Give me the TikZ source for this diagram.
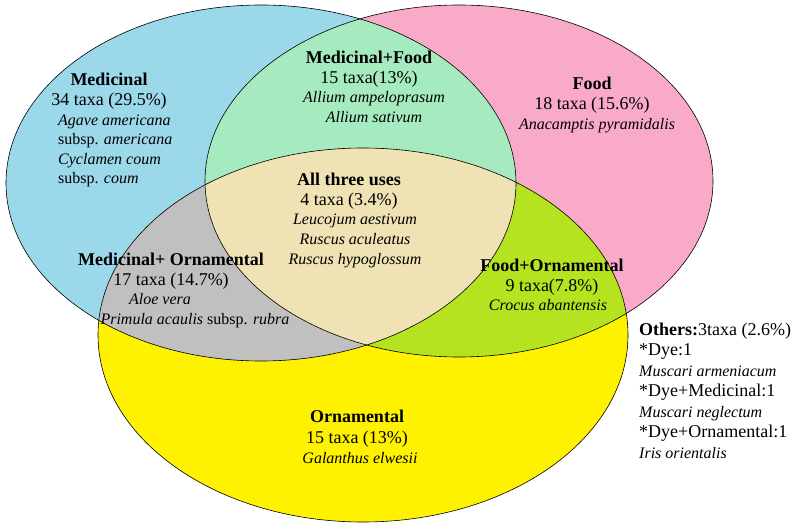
\documentclass[tikz,border=0pt]{standalone}
\usepackage{fontspec}
\setmainfont{Liberation Serif}
\definecolor{medblue}{RGB}{155,216,234}
\definecolor{foodpink}{RGB}{249,170,200}
\definecolor{ornyellow}{RGB}{255,242,0}
\definecolor{mfgreen}{RGB}{166,235,192}
\definecolor{allbeige}{RGB}{239,226,180}
\definecolor{mogray}{RGB}{192,192,192}
\definecolor{folime}{RGB}{182,227,32}
\tikzset{
  big/.style={font=\fontsize{18}{20.5}\selectfont, inner sep=0pt},
  small/.style={font=\fontsize{16}{20}\selectfont\itshape, inner sep=0pt},
  outline/.style={draw=black, line width=0.6pt},
  med/.style={x radius=255pt, y radius=178pt},
  food/.style={x radius=254pt, y radius=176pt},
  orn/.style={x radius=265pt, y radius=187pt}
}
\begin{document}
\begin{tikzpicture}[x=1pt,y=-1pt]
\useasboundingbox (0,0) rectangle (803,529);
\coordinate (cm) at (261,183);
\coordinate (cf) at (459,181);
\coordinate (co) at (363,335);
% base fills
\fill[medblue] (cm) ellipse [med];
\fill[foodpink] (cf) ellipse [food];
\fill[ornyellow] (co) ellipse [orn];
% pairwise overlaps
\begin{scope}
  \clip (cm) ellipse [med];
  \fill[mfgreen] (cf) ellipse [food];
  \fill[mogray] (co) ellipse [orn];
\end{scope}
\begin{scope}
  \clip (cf) ellipse [food];
  \fill[folime] (co) ellipse [orn];
\end{scope}
\begin{scope}
  \clip (cm) ellipse [med];
  \clip (cf) ellipse [food];
  \fill[allbeige] (co) ellipse [orn];
\end{scope}
% outlines
\draw[outline] (cm) ellipse [med];
\draw[outline] (cf) ellipse [food];
\draw[outline] (co) ellipse [orn];
% Medicinal
\node[big, anchor=base, align=center] (medt) at (109,106) {\textbf{Medicinal}\\34 taxa (29.5\%)};
\node[big, anchor=base west, align=left, font=\fontsize{16}{19.5}\selectfont] (meds) at (58,184)
  {\textit{Agave americana}\\subsp. \textit{americana}\\\textit{Cyclamen coum}\\subsp. \textit{coum}};
% Medicinal+Food
\node[big, anchor=base, align=center] (mft) at (369,84) {\textbf{Medicinal+Food}\\15 taxa(13\%)};
\node[small, anchor=base, align=center] (mfs) at (374,123) {Allium ampeloprasum\\Allium sativum};
% Food
\node[big, anchor=base, align=center] (ft) at (592,110) {\textbf{Food}\\18 taxa (15.6\%)};
\node[small, anchor=base] (fs) at (597,130) {Anacamptis pyramidalis};
% All three
\node[big, anchor=base, align=center] (at) at (349,206) {\textbf{All three uses}\\4 taxa (3.4\%)};
\node[small, anchor=base, align=center] (as) at (355,265) {Leucojum aestivum\\Ruscus aculeatus\\Ruscus hypoglossum};
% Medicinal+Ornamental
\node[big, anchor=base, align=center] (mot) at (171,286) {\textbf{Medicinal+ Ornamental}\\17 taxa (14.7\%)};
\node[small, anchor=base] (mos1) at (160,305) {Aloe vera};
\node[big, anchor=base, font=\fontsize{16}{20}\selectfont] (mos2) at (195,324) {\textit{Primula acaulis} subsp. \textit{rubra}};
% Food+Ornamental
\node[big, anchor=base, align=center] (fot) at (552,292) {\textbf{Food+Ornamental}\\9 taxa(7.8\%)};
\node[small, anchor=base] (fos) at (548,311) {Crocus abantensis};
% Ornamental
\node[big, anchor=base, align=center] (ot) at (357,443) {\textbf{Ornamental}\\15 taxa (13\%)};
\node[small, anchor=base] (os) at (360,463) {Galanthus elwesii};
% Others
\node[big, anchor=base west, align=left] (oth) at (639,458)
  {\textbf{Others:}3taxa (2.6\%)\\*Dye:1\\{\fontsize{16}{20}\selectfont\itshape Muscari armeniacum}\\*Dye+Medicinal:1\\{\fontsize{16}{20}\selectfont\itshape Muscari neglectum}\\*Dye+Ornamental:1\\{\fontsize{16}{20}\selectfont\itshape Iris orientalis}};
\end{tikzpicture}
\end{document}
